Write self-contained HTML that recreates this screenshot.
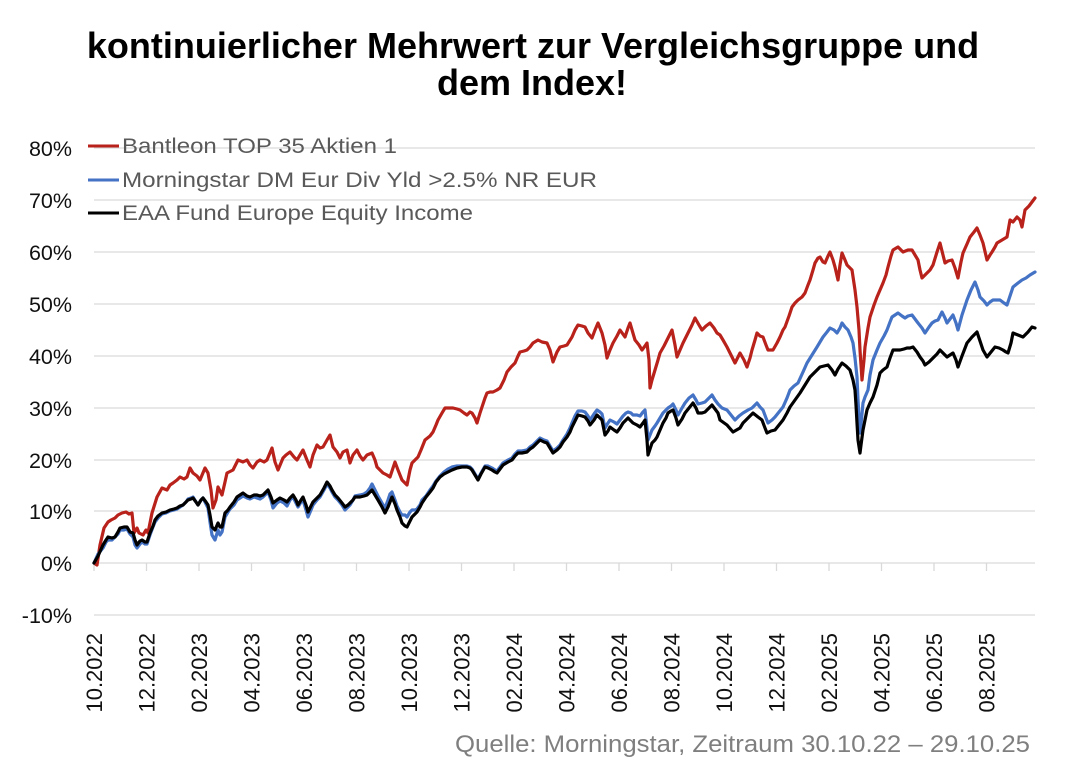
<!DOCTYPE html>
<html>
<head>
<meta charset="utf-8">
<style>
html,body{margin:0;padding:0;background:#fff;}
svg{display:block;}
text{font-family:"Liberation Sans",Arial,sans-serif;}
</style>
</head>
<body>
<svg width="1070" height="770" viewBox="0 0 1070 770" xmlns="http://www.w3.org/2000/svg">
<rect width="1070" height="770" fill="#fff"/>
<!-- Title -->
<text x="533" y="58" font-size="36" font-weight="bold" text-anchor="middle" fill="#000">kontinuierlicher Mehrwert zur Vergleichsgruppe und</text>
<text x="532" y="95" font-size="36" font-weight="bold" text-anchor="middle" fill="#000">dem Index!</text>

<!-- Gridlines -->
<g stroke="#d9d9d9" stroke-width="1.3">
<line x1="94" y1="148" x2="1035" y2="148"/>
<line x1="94" y1="200" x2="1035" y2="200"/>
<line x1="94" y1="252" x2="1035" y2="252"/>
<line x1="94" y1="304" x2="1035" y2="304"/>
<line x1="94" y1="356" x2="1035" y2="356"/>
<line x1="94" y1="408" x2="1035" y2="408"/>
<line x1="94" y1="460" x2="1035" y2="460"/>
<line x1="94" y1="511" x2="1035" y2="511"/>
<line x1="94" y1="563" x2="1035" y2="563"/>
<line x1="94" y1="615" x2="1035" y2="615"/>
</g>
<!-- Ticks -->
<g stroke="#d9d9d9" stroke-width="1.3">
<line x1="94" y1="563" x2="94" y2="571"/>
<line x1="146.5" y1="563" x2="146.5" y2="571"/>
<line x1="199" y1="563" x2="199" y2="571"/>
<line x1="251.5" y1="563" x2="251.5" y2="571"/>
<line x1="304" y1="563" x2="304" y2="571"/>
<line x1="356.5" y1="563" x2="356.5" y2="571"/>
<line x1="409" y1="563" x2="409" y2="571"/>
<line x1="461.5" y1="563" x2="461.5" y2="571"/>
<line x1="514" y1="563" x2="514" y2="571"/>
<line x1="566.5" y1="563" x2="566.5" y2="571"/>
<line x1="619" y1="563" x2="619" y2="571"/>
<line x1="671.5" y1="563" x2="671.5" y2="571"/>
<line x1="724" y1="563" x2="724" y2="571"/>
<line x1="776.5" y1="563" x2="776.5" y2="571"/>
<line x1="829" y1="563" x2="829" y2="571"/>
<line x1="881.5" y1="563" x2="881.5" y2="571"/>
<line x1="934" y1="563" x2="934" y2="571"/>
<line x1="986.5" y1="563" x2="986.5" y2="571"/>
</g>

<!-- Y labels -->
<g font-size="21.5" fill="#111" text-anchor="end">
<text x="72" y="156">80%</text>
<text x="72" y="208">70%</text>
<text x="72" y="260">60%</text>
<text x="72" y="312">50%</text>
<text x="72" y="364">40%</text>
<text x="72" y="416">30%</text>
<text x="72" y="468">20%</text>
<text x="72" y="519">10%</text>
<text x="72" y="571">0%</text>
<text x="72" y="623">-10%</text>
</g>

<!-- X labels -->
<g font-size="22" fill="#111" text-anchor="end">
<text transform="translate(102,633) rotate(-90)">10.2022</text>
<text transform="translate(154.5,633) rotate(-90)">12.2022</text>
<text transform="translate(207,633) rotate(-90)">02.2023</text>
<text transform="translate(259.5,633) rotate(-90)">04.2023</text>
<text transform="translate(312,633) rotate(-90)">06.2023</text>
<text transform="translate(364.5,633) rotate(-90)">08.2023</text>
<text transform="translate(417,633) rotate(-90)">10.2023</text>
<text transform="translate(469.5,633) rotate(-90)">12.2023</text>
<text transform="translate(522,633) rotate(-90)">02.2024</text>
<text transform="translate(574.5,633) rotate(-90)">04.2024</text>
<text transform="translate(627,633) rotate(-90)">06.2024</text>
<text transform="translate(679.5,633) rotate(-90)">08.2024</text>
<text transform="translate(732,633) rotate(-90)">10.2024</text>
<text transform="translate(784.5,633) rotate(-90)">12.2024</text>
<text transform="translate(837,633) rotate(-90)">02.2025</text>
<text transform="translate(889.5,633) rotate(-90)">04.2025</text>
<text transform="translate(942,633) rotate(-90)">06.2025</text>
<text transform="translate(994.5,633) rotate(-90)">08.2025</text>
</g>

<!-- Series -->
<g fill="none" stroke-width="3.2" stroke-linejoin="round" stroke-linecap="round">
<polyline stroke="#b8221b" points="94,563 97,565 100,545 104,528 108,522 111,520 115,518 118,515 122,513 126,512 129,514 132,513 134,533 137,528 139,533 143,535 146,530 148,533 152,513 157,497 162,488 167,490 170,485 173,483 177,480 180,477 184,479 187,477 190,468 193,473 197,476 200,480 205,468 208,473 211,490 213,508 216,500 218,487 222,495 225,482 227,473 233,470 238,460 243,462 247,460 250,465 253,468 257,462 260,460 264,462 267,460 272,448 275,462 278,470 283,458 286,455 290,452 294,457 297,460 300,455 303,450 307,460 310,467 313,455 317,445 320,448 323,447 327,440 330,435 333,447 337,452 340,458 343,452 347,450 350,463 353,455 357,450 360,456 363,460 367,455 372,453 375,460 377,467 380,470 383,473 387,475 390,477 393,468 395,462 398,470 402,480 405,483 407,485 410,470 412,463 415,460 418,457 421,450 425,440 430,436 433,432 436,425 438,420 442,413 445,408 449,408 453,408 457,409 460,410 464,413 467,415 470,412 472,413 475,418 477,423 480,413 482,407 485,398 487,393 490,392 493,392 497,390 500,388 504,380 507,372 511,367 515,363 518,356 520,352 524,351 527,350 530,347 533,343 538,340 542,342 547,343 550,350 553,362 557,352 560,347 564,346 567,345 572,337 575,330 578,325 582,326 585,327 588,333 592,338 595,330 598,323 602,333 605,345 607,358 610,350 613,343 617,336 620,330 625,337 628,328 630,323 635,340 639,345 642,350 645,346 647,343 649,360 650,388 652,380 655,370 658,360 660,353 664,346 667,340 672,330 675,345 677,357 680,350 683,343 688,333 692,325 695,318 699,325 702,330 706,326 710,323 714,328 717,333 720,335 723,340 727,347 731,355 735,363 740,353 744,360 747,367 750,358 752,350 755,340 757,333 760,336 763,337 766,345 768,350 773,350 777,343 780,337 783,330 785,327 789,316 792,307 795,303 798,300 802,297 805,293 808,285 810,280 813,270 815,263 818,258 820,257 823,262 825,263 828,256 830,252 833,260 835,267 838,280 840,265 842,253 845,260 847,265 850,268 852,270 855,290 857,307 859,330 860,350 861,365 862,380 864,360 865,347 868,328 870,317 874,305 877,297 880,290 883,283 886,275 888,267 891,256 893,250 898,247 901,250 903,252 908,250 912,250 915,255 918,260 920,270 922,278 925,275 927,273 930,270 933,265 937,252 940,243 943,255 945,263 948,261 952,260 955,268 958,278 961,262 963,253 967,244 970,237 974,232 977,228 980,235 983,243 987,260 990,255 992,252 995,247 997,243 1002,240 1007,237 1010,220 1013,222 1017,217 1020,220 1022,227 1025,210 1029,206 1032,202 1035,198"/>
<polyline stroke="#4472c4" points="94,563 98,554 103,548 106,542 108,540 112,540 115,537 118,534 120,530 124,530 127,529 130,534 133,537 135,545 137,548 140,544 142,542 145,544 147,544 150,535 153,527 155,522 158,518 162,514 166,513 170,511 174,510 177,509 180,507 183,505 186,502 188,499 191,498 193,497 196,502 198,505 201,500 203,498 206,504 208,508 210,522 212,535 215,540 218,530 220,535 222,532 225,517 228,512 230,509 234,505 237,500 240,498 243,496 247,498 250,499 254,497 257,498 260,499 263,497 268,492 271,500 273,508 277,503 280,501 284,503 287,506 290,500 293,497 296,503 298,507 301,502 303,500 306,510 308,517 311,510 313,505 317,500 320,497 324,490 327,484 330,488 332,492 335,497 338,500 342,505 345,510 348,507 350,505 353,500 355,496 360,495 364,494 367,492 370,488 372,484 375,490 378,496 382,503 385,508 388,500 390,494 392,492 395,500 397,506 400,512 402,515 405,515 407,517 410,512 412,510 415,510 417,509 420,505 422,500 426,496 430,490 433,486 436,481 440,476 444,472 448,469 452,467 457,466 462,466 467,466 470,467 472,469 475,474 478,479 481,473 485,466 488,466 492,468 495,470 497,471 500,467 503,463 508,460 512,458 515,454 518,451 522,451 527,450 530,447 533,445 537,441 540,438 544,440 547,441 550,446 553,451 557,448 560,445 563,440 567,434 570,428 572,423 575,416 578,411 582,411 585,412 588,416 590,420 594,414 597,410 600,412 602,414 605,428 608,423 610,420 614,422 617,424 620,420 623,416 626,413 628,412 631,413 633,415 637,415 640,416 643,412 645,410 647,428 648,440 650,435 652,430 655,426 657,423 660,418 663,413 666,410 668,408 671,406 673,404 676,410 678,415 682,408 685,403 689,398 693,395 696,400 698,404 702,403 705,402 709,398 712,395 715,400 718,404 722,408 727,410 731,415 735,420 739,416 743,413 748,410 752,408 757,403 760,407 763,410 766,418 768,423 772,420 775,417 779,412 783,407 787,398 790,390 794,386 798,383 803,372 807,363 812,355 817,347 820,342 823,337 827,332 830,328 834,330 837,333 840,328 842,323 845,327 848,330 851,337 853,343 855,358 857,377 858,400 860,433 861,425 863,403 865,397 868,390 870,375 873,360 877,350 880,343 884,336 887,330 890,322 892,317 895,315 898,313 902,316 905,318 908,316 912,315 915,319 918,323 922,328 925,333 929,327 932,323 935,321 938,320 942,312 945,318 947,323 950,319 953,315 956,323 958,330 962,315 967,300 971,290 975,282 978,290 980,297 984,301 987,305 990,302 993,300 997,300 1000,300 1004,303 1007,305 1010,296 1013,287 1018,283 1022,280 1026,278 1030,275 1035,272"/>
<polyline stroke="#000" points="94,563 98,556 103,545 106,540 108,537 112,538 115,537 118,532 120,528 124,527 127,527 130,532 133,533 135,540 137,545 140,541 142,540 145,542 147,542 150,533 153,526 155,520 158,516 162,513 166,512 170,510 174,509 177,508 180,506 183,505 186,502 188,500 191,499 193,498 196,502 198,505 201,500 203,498 206,502 208,505 210,515 212,527 215,530 218,523 220,527 222,527 225,513 228,510 230,507 234,502 237,497 240,495 243,493 247,496 250,497 254,495 257,495 260,496 263,495 268,490 271,497 273,503 277,500 280,498 284,500 287,502 290,498 293,495 296,500 298,505 301,500 303,497 306,505 308,512 311,506 313,502 317,498 320,495 324,488 327,482 330,486 332,490 335,495 338,498 342,503 345,507 348,505 350,503 353,500 355,497 360,497 364,496 367,495 370,492 372,490 375,495 378,500 382,507 385,513 388,507 390,502 392,497 395,504 397,510 400,517 402,523 405,526 407,527 410,521 412,517 415,514 417,512 420,507 422,503 426,497 430,492 433,488 436,482 440,477 444,474 448,472 452,470 457,468 462,467 467,467 470,468 472,470 475,475 478,480 481,474 485,467 488,468 492,470 495,472 497,473 500,469 503,465 508,462 512,460 515,456 518,453 522,453 527,452 530,449 533,447 537,443 540,440 544,442 547,443 550,448 553,453 557,450 560,447 563,442 567,437 570,432 572,427 575,421 578,415 582,416 585,417 588,421 590,425 594,420 597,415 600,418 602,420 605,435 608,431 610,427 614,430 617,432 620,428 623,423 626,420 628,418 631,421 633,423 637,425 640,427 643,423 645,420 647,440 648,455 650,449 652,443 655,440 657,437 660,430 663,423 666,418 668,413 671,411 673,410 676,418 678,425 682,419 685,413 689,408 693,403 696,408 698,413 702,413 705,412 709,408 712,405 715,409 718,413 720,420 727,425 733,432 740,428 743,423 748,418 753,413 758,417 762,420 765,428 767,433 771,431 775,430 779,425 783,420 787,413 790,407 795,400 800,393 805,385 810,377 815,372 820,367 824,366 828,365 832,370 835,375 838,369 842,363 846,366 850,370 853,380 855,390 856,405 857,423 858,440 860,453 861,445 863,430 865,420 867,410 870,403 873,397 877,385 880,373 883,370 887,367 890,358 893,350 897,350 900,350 904,349 907,348 910,348 913,347 917,352 920,357 923,361 925,365 929,362 933,358 937,354 940,350 944,354 947,357 950,355 953,353 956,360 958,367 962,356 967,343 972,337 977,332 980,341 983,350 987,357 991,352 995,347 999,348 1003,350 1006,352 1008,353 1011,343 1013,333 1018,335 1023,337 1028,332 1032,327 1035,328"/>
</g>

<!-- Legend -->
<g stroke-width="3">
<line x1="88" y1="146" x2="119" y2="146" stroke="#b8221b"/>
<line x1="88" y1="180" x2="119" y2="180" stroke="#4472c4"/>
<line x1="88" y1="213" x2="119" y2="213" stroke="#000"/>
</g>
<g font-size="21" fill="#595959">
<text x="122" y="153" textLength="275" lengthAdjust="spacingAndGlyphs">Bantleon TOP 35 Aktien 1</text>
<text x="122" y="187" textLength="475" lengthAdjust="spacingAndGlyphs">Morningstar DM Eur Div Yld &gt;2.5% NR EUR</text>
<text x="122" y="220" textLength="351" lengthAdjust="spacingAndGlyphs">EAA Fund Europe Equity Income</text>
</g>

<!-- Source -->
<text x="455" y="752" font-size="24" fill="#7f7f7f" textLength="575" lengthAdjust="spacingAndGlyphs">Quelle: Morningstar, Zeitraum 30.10.22 – 29.10.25</text>
</svg>
</body>
</html>
